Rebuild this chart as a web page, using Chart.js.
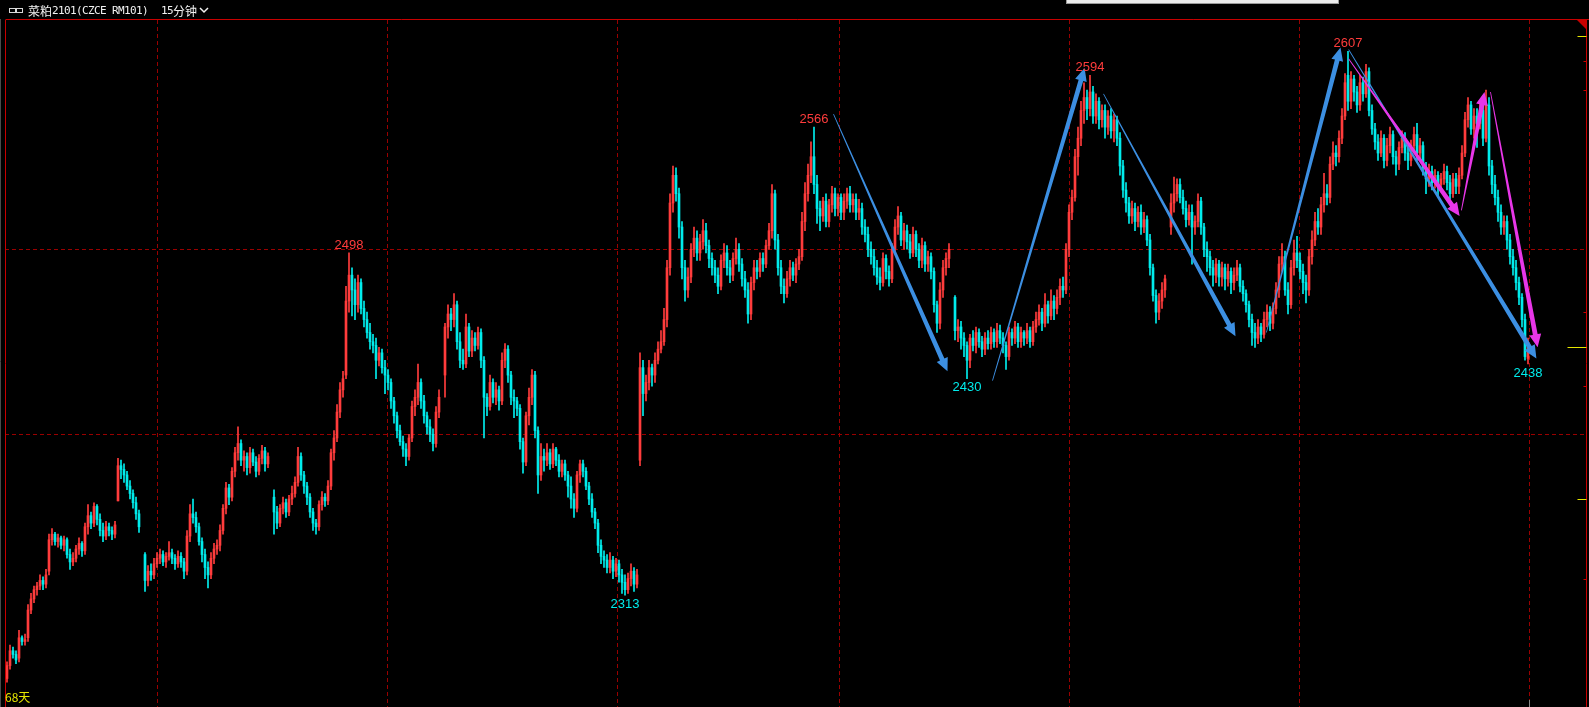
<!DOCTYPE html>
<html>
<head>
<meta charset="utf-8">
<script src="https://cdn.jsdelivr.net/npm/chart.js@4.4.1/dist/chart.umd.min.js"></script>
<style>
  html, body { margin: 0; padding: 0; background: #000; overflow: hidden; }
  #wrap { position: relative; width: 1589px; height: 707px; }
</style>
</head>
<body>
<div id="wrap"><canvas id="kline"></canvas></div>
<script>
// 菜粕2101 15分钟 candles (null = gap in the series)
const opens = [
  2268,2275,2283,2281,2279,2290,2288,2290,2305,2311,
  2316,2318,2321,2319,2326,2343,2346,2342,2344,2340,
  2343,2335,2331,2333,2338,2341,2337,2350,2356,2352,
  2361,2354,2348,2345,2350,2348,2346,2364,2383,2381,
  2378,2372,2368,2363,2357,null,2335,2321,2326,2324,
  2330,2333,2335,2331,2334,2336,2333,2330,2334,2331,
  2326,2345,2357,2355,2350,2342,2335,2328,2324,2333,
  2338,2340,2348,2360,2371,2366,2380,2390,2395,2386,
  2388,2382,2390,2385,2380,2387,2391,2384,null,2366,
  2358,2352,2360,2363,2358,2365,2368,2374,2388,2378,
  2372,2366,2358,2352,2350,2362,2366,2364,2372,2390,
  2398,2412,2424,2432,2472,2486,2478,2470,2482,2468,
  2462,2455,2450,2448,2440,2444,2436,2432,2428,2418,
  2410,2402,2396,2392,2388,2398,2415,2420,2428,2418,
  2410,2404,2400,2395,2412,null,2432,2458,2465,2462,
  2470,2450,2440,2438,2458,2445,2452,2448,2455,2440,
  2420,2415,2428,2420,2424,2418,2440,2446,2432,2420,
  2418,2414,2396,2385,2410,2420,2432,2402,2378,2388,
  2386,2390,2384,2392,2386,2380,2384,2378,2372,2365,
  2360,2378,2384,2380,2372,2365,2358,2352,2340,2334,
  2332,2328,2332,2326,2330,2324,2320,2316,2322,2326,
  2319,2386,2436,2422,2428,2436,2432,2440,2446,2450,
  2462,2490,2525,2540,2530,2512,2490,2478,2485,2500,
  2506,2498,2504,2510,2502,2495,2490,2486,2480,2494,
  2498,2490,2486,2495,2500,2492,2484,2478,2465,2482,
  2490,2488,2495,2492,2502,2510,2530,2505,2490,2480,
  2476,2484,2490,2486,2492,2496,2515,2530,2540,2550,
  2535,2522,2518,2526,2515,2524,2530,2522,2528,2520,
  2526,2530,2524,2527,2520,2522,2512,2508,2500,2496,
  2490,2485,2482,2495,2488,2484,2500,2512,2518,2505,
  2510,2504,2498,2508,2500,2494,2502,2492,2496,2488,
  2470,2460,2478,2490,2495,null,2474,2456,2458,2452,
  2448,2440,2452,2448,2455,2450,2446,2452,2449,2455,
  2450,2456,2452,2448,2442,2455,2452,2458,2450,2455,
  2452,2456,2450,2458,2462,2466,2460,2470,2464,2472,
  2468,2474,2480,2478,2500,2520,2528,2550,2560,2575,
  2582,2576,2585,2572,2580,2570,2575,2566,2572,2564,
  2570,2560,2545,2532,2525,2518,2522,2515,2520,2512,
  2516,2505,2490,2475,2466,2472,2478,null,2512,2525,
  2530,2535,2528,2522,2516,2520,2512,2515,2526,2512,
  2500,2496,2490,2486,2492,2485,2490,2484,2488,2482,
  2486,2490,2480,2476,2470,2462,2455,2452,2458,2454,
  2462,2466,2460,2468,2478,2492,2496,2478,2470,2490,
  2498,2494,2488,2482,2478,2496,2505,2515,2512,2524,
  2530,2528,2546,2552,2550,2560,2572,2594,2580,2592,
  2585,2578,2590,2584,2596,2575,2565,2558,2552,2560,
  2548,2556,2562,2550,2546,2555,2560,2552,2548,2556,
  2562,2552,2556,2544,2538,2542,2536,2540,2535,2538,
  2542,2536,2530,2538,2534,2540,2552,2570,2578,2565,
  2572,2568,2575,2560,2578,2545,2535,2528,2520,2512,
  2515,2505,2496,2490,2482,2474,2462,2441
];
const highs = [
  2277,2286,2285,2283,2294,2291,2292,2308,2314,2318,
  2320,2324,2323,2327,2346,2349,2347,2346,2345,2345,
  2344,2338,2336,2340,2344,2342,2352,2362,2358,2363,
  2362,2357,2352,2353,2352,2350,2353,2387,2386,2384,
  2380,2375,2370,2366,2359,null,2336,2329,2330,2333,
  2336,2338,2337,2336,2342,2338,2335,2337,2336,2333,
  2348,2362,2365,2358,2352,2344,2338,2331,2336,2341,
  2343,2351,2362,2374,2373,2382,2393,2404,2397,2391,
  2390,2393,2392,2388,2389,2394,2393,2390,null,2370,
  2361,2362,2366,2365,2367,2372,2377,2393,2390,2380,
  2374,2368,2360,2354,2364,2369,2368,2375,2392,2402,
  2416,2428,2434,2480,2498,2490,2484,2486,2484,2472,
  2466,2460,2454,2452,2447,2446,2440,2435,2430,2420,
  2412,2405,2399,2395,2400,2418,2424,2438,2430,2421,
  2412,2408,2403,2415,2424,null,2460,2470,2468,2476,
  2472,2455,2446,2465,2460,2456,2455,2458,2457,2442,
  2422,2432,2430,2428,2426,2444,2449,2448,2434,2424,
  2420,2416,2398,2412,2425,2435,2434,2404,2395,2392,
  2395,2392,2395,2393,2389,2386,2386,2380,2377,2368,
  2380,2386,2386,2382,2374,2368,2360,2354,2343,2337,
  2335,2336,2334,2333,2332,2327,2324,2325,2330,2328,
  2327,2444,2440,2432,2440,2438,2444,2450,2456,2468,
  2494,2530,2545,2544,2533,2515,2494,2490,2503,2512,
  2510,2508,2516,2514,2505,2498,2494,2490,2497,2503,
  2502,2494,2498,2506,2503,2495,2488,2482,2485,2494,
  2494,2498,2498,2505,2514,2535,2532,2508,2494,2484,
  2488,2494,2493,2495,2500,2520,2536,2546,2558,2566,
  2540,2526,2528,2530,2527,2534,2533,2530,2530,2530,
  2533,2534,2530,2530,2527,2525,2516,2512,2504,2500,
  2494,2490,2498,2497,2491,2503,2516,2523,2520,2514,
  2513,2508,2512,2510,2503,2506,2504,2499,2498,2490,
  2472,2482,2494,2498,2503,null,2475,2462,2461,2455,
  2450,2454,2456,2458,2457,2453,2455,2456,2458,2457,
  2460,2459,2455,2450,2458,2457,2461,2460,2458,2456,
  2460,2458,2461,2466,2470,2468,2476,2472,2478,2475,
  2478,2484,2485,2503,2524,2532,2554,2566,2580,2590,
  2586,2594,2588,2584,2582,2578,2578,2575,2576,2573,
  2572,2563,2548,2536,2528,2526,2525,2523,2524,2520,
  2518,2508,2492,2478,2476,2482,2486,null,2530,2539,
  2538,2538,2532,2526,2524,2524,2518,2530,2528,2514,
  2504,2499,2494,2495,2494,2493,2492,2492,2490,2490,
  2494,2492,2483,2478,2472,2465,2460,2462,2460,2466,
  2470,2469,2471,2482,2496,2503,2499,2482,2494,2505,
  2507,2498,2492,2486,2500,2510,2520,2522,2528,2541,
  2535,2550,2558,2556,2564,2576,2595,2607,2596,2594,
  2588,2594,2593,2600,2598,2578,2568,2562,2564,2562,
  2560,2566,2564,2553,2558,2564,2563,2556,2559,2566,
  2568,2560,2558,2547,2546,2545,2543,2542,2541,2546,
  2545,2540,2541,2541,2544,2556,2574,2582,2580,2576,
  2576,2580,2578,2586,2582,2548,2540,2532,2524,2518,
  2518,2508,2500,2494,2485,2476,2465,2452
];
const lows = [
  2266,2273,2279,2276,2277,2286,2286,2288,2303,2309,
  2313,2316,2316,2317,2324,2340,2340,2339,2338,2337,
  2333,2327,2329,2331,2335,2334,2335,2346,2349,2350,
  2351,2345,2342,2343,2345,2343,2344,2364,2376,2374,
  2370,2365,2360,2354,2347,null,2315,2318,2321,2322,
  2328,2330,2329,2328,2332,2330,2327,2328,2328,2322,
  2324,2342,2352,2347,2340,2331,2322,2317,2322,2330,
  2335,2337,2346,2357,2362,2364,2377,2386,2383,2380,
  2378,2379,2383,2377,2378,2384,2380,2382,null,2346,
  2349,2350,2357,2355,2356,2362,2366,2372,2375,2368,
  2362,2355,2348,2346,2348,2359,2361,2362,2370,2386,
  2396,2409,2420,2430,2466,2464,2462,2466,2465,2458,
  2452,2446,2444,2430,2437,2433,2422,2424,2414,2406,
  2398,2394,2388,2383,2386,2396,2410,2416,2414,2406,
  2400,2396,2391,2393,2409,null,2420,2452,2456,2458,
  2446,2436,2435,2436,2442,2442,2445,2446,2436,2398,
  2410,2413,2417,2416,2413,2416,2436,2428,2416,2409,
  2410,2392,2379,2383,2405,2416,2398,2368,2375,2380,
  2383,2381,2382,2383,2377,2377,2375,2366,2360,2355,
  2358,2374,2377,2370,2362,2355,2349,2336,2330,2328,
  2325,2325,2322,2323,2320,2314,2313,2314,2318,2315,
  2317,2383,2410,2418,2424,2426,2428,2438,2444,2448,
  2458,2486,2520,2526,2506,2484,2472,2474,2482,2496,
  2494,2494,2500,2498,2490,2486,2482,2476,2478,2490,
  2486,2482,2483,2492,2488,2480,2474,2460,2462,2478,
  2484,2485,2488,2490,2500,2506,2500,2486,2476,2471,
  2474,2480,2483,2482,2489,2494,2510,2526,2536,2530,
  2514,2510,2515,2512,2512,2520,2518,2518,2516,2516,
  2522,2520,2520,2516,2516,2508,2504,2496,2492,2486,
  2481,2478,2480,2484,2480,2482,2498,2508,2502,2500,
  2500,2495,2496,2496,2490,2490,2488,2488,2484,2466,
  2455,2457,2474,2486,2490,null,2451,2450,2446,2442,
  2430,2436,2445,2444,2447,2442,2443,2446,2446,2447,
  2447,2449,2444,2435,2440,2448,2449,2447,2447,2448,
  2449,2447,2448,2455,2459,2456,2458,2460,2462,2462,
  2465,2470,2474,2476,2496,2516,2526,2540,2556,2568,
  2570,2572,2568,2568,2565,2566,2560,2562,2560,2558,
  2556,2540,2528,2520,2514,2514,2510,2512,2508,2509,
  2502,2486,2472,2460,2462,2468,2474,null,2508,2520,
  2526,2525,2519,2512,2513,2492,2508,2512,2508,2496,
  2488,2486,2480,2482,2480,2480,2478,2480,2476,2478,
  2483,2477,2472,2466,2458,2448,2447,2449,2450,2452,
  2458,2456,2457,2465,2474,2488,2475,2465,2468,2486,
  2490,2484,2476,2471,2475,2492,2502,2508,2508,2520,
  2524,2525,2543,2545,2547,2557,2570,2575,2576,2580,
  2574,2575,2580,2582,2572,2562,2554,2548,2550,2544,
  2545,2552,2546,2540,2543,2552,2548,2543,2545,2552,
  2548,2548,2540,2530,2534,2532,2533,2529,2531,2535,
  2532,2527,2528,2530,2530,2538,2550,2566,2562,2560,
  2555,2565,2556,2558,2540,2530,2524,2515,2508,2508,
  2500,2492,2486,2478,2470,2458,2440,2438
];
const closes = [
  2275,2283,2281,2278,2290,2288,2289,2305,2311,2316,
  2318,2321,2319,2324,2343,2346,2342,2344,2340,2343,
  2335,2331,2333,2338,2341,2337,2350,2356,2352,2361,
  2354,2348,2345,2350,2348,2346,2351,2383,2381,2378,
  2372,2368,2363,2357,2350,null,2321,2326,2324,2330,
  2333,2335,2331,2334,2336,2333,2330,2334,2331,2326,
  2345,2357,2355,2350,2342,2335,2328,2324,2333,2338,
  2340,2348,2360,2371,2366,2380,2390,2395,2386,2388,
  2382,2390,2385,2380,2387,2391,2384,2388,null,2358,
  2352,2360,2363,2358,2365,2368,2374,2388,2378,2372,
  2366,2358,2352,2350,2362,2366,2364,2372,2390,2398,
  2412,2424,2430,2472,2486,2478,2470,2482,2468,2462,
  2455,2450,2448,2440,2444,2436,2432,2428,2418,2410,
  2402,2396,2392,2388,2398,2415,2420,2428,2418,2410,
  2404,2400,2395,2412,2420,null,2458,2465,2462,2470,
  2450,2440,2438,2458,2445,2452,2448,2455,2440,2420,
  2415,2428,2420,2424,2418,2440,2446,2432,2420,2418,
  2414,2396,2385,2410,2420,2432,2402,2378,2388,2386,
  2390,2384,2392,2386,2380,2384,2378,2372,2365,2360,
  2378,2384,2380,2372,2365,2358,2352,2340,2334,2332,
  2328,2332,2326,2330,2324,2320,2316,2322,2326,2319,
  2324,2436,2422,2428,2436,2432,2440,2446,2450,2462,
  2490,2525,2540,2530,2512,2490,2478,2485,2500,2506,
  2498,2504,2510,2502,2495,2490,2486,2480,2494,2498,
  2490,2486,2495,2500,2492,2484,2478,2465,2482,2490,
  2488,2495,2492,2502,2510,2530,2505,2490,2480,2476,
  2484,2490,2486,2492,2496,2515,2530,2540,2550,2535,
  2522,2518,2526,2515,2524,2530,2522,2528,2520,2526,
  2530,2524,2527,2520,2522,2512,2508,2500,2496,2490,
  2485,2482,2495,2488,2484,2500,2512,2518,2505,2510,
  2504,2498,2508,2500,2494,2502,2492,2496,2488,2470,
  2460,2478,2490,2495,2500,null,2456,2458,2452,2448,
  2440,2452,2448,2455,2450,2446,2452,2449,2455,2450,
  2456,2452,2448,2442,2455,2452,2458,2450,2455,2452,
  2456,2450,2458,2462,2466,2460,2470,2464,2472,2468,
  2474,2480,2478,2500,2520,2528,2550,2560,2575,2582,
  2576,2585,2572,2580,2570,2575,2566,2572,2564,2570,
  2560,2545,2532,2525,2518,2522,2515,2520,2512,2516,
  2505,2490,2475,2466,2472,2478,2484,null,2525,2530,
  2535,2528,2522,2516,2520,2512,2515,2526,2512,2500,
  2496,2490,2486,2492,2485,2490,2484,2488,2482,2486,
  2490,2480,2476,2470,2462,2455,2452,2458,2454,2462,
  2466,2460,2468,2478,2492,2496,2478,2470,2490,2498,
  2494,2488,2482,2478,2496,2505,2515,2512,2524,2530,
  2528,2546,2552,2550,2560,2572,2590,2580,2592,2585,
  2578,2590,2584,2596,2575,2565,2558,2552,2560,2548,
  2556,2562,2550,2546,2555,2560,2552,2548,2556,2562,
  2552,2556,2544,2538,2542,2536,2540,2535,2538,2542,
  2536,2530,2538,2534,2540,2552,2570,2578,2565,2572,
  2568,2575,2560,2578,2545,2535,2528,2520,2512,2515,
  2505,2496,2490,2482,2474,2462,2442,2447
];

// session separators (bar index) and price grid levels
const dayBreaks = [50, 126.67, 203.33, 277.33, 354, 430.67, 507.33];
const priceGrid = [2400, 2500];

// marked extremes: bar index and which side
const markIdx  = [114, 206, 269, 320, 361, 447, 507];
const markSide = ["high", "low", "high", "low", "high", "high", "low"];

// hand-drawn trend arrows: [fromIndex, fromPrice, toIndex, toPrice]
const blueArrows = [
  [275.5, 2573, 313.5, 2434],
  [328.5, 2429, 359.2, 2598],
  [365.5, 2584, 409.5, 2453],
  [419.8, 2455, 444.5, 2609],
  [447.2, 2608, 509.8, 2441]
];
const pinkArrows = [
  [447.2, 2603, 484.2, 2518],
  [484.8, 2521, 492.5, 2585],
  [494.5, 2585, 510.2, 2447]
];

// right-edge axis marks
const axisTicks = [2602, 2586, 2466, 2426, 2322];
const yellowTicks = [2615, 2365];
const lastPrice = closes[closes.length - 1];

const UP = "#ff3c3c";
const DOWN = "#00ecec";
const FLAT = "#e6e6e6";
const GRID = "#9a0000";
const FRAME = "#c80000";

const wickData = [], bodyData = [], colors = [];
for (let i = 0; i < closes.length; i++) {
  if (closes[i] == null) {
    wickData.push({ x: i, y: null });
    bodyData.push({ x: i, y: null });
    colors.push(FLAT);
    continue;
  }
  wickData.push({ x: i, y: [lows[i], highs[i]] });
  bodyData.push({ x: i, y: [opens[i], closes[i]] });
  colors.push(closes[i] > opens[i] ? UP : closes[i] < opens[i] ? DOWN : FLAT);
}

// header text drawn with half-width latin like the terminal font
function drawMixed(ctx, text, x, y) {
  for (const ch of text) {
    const wide = ch.charCodeAt(0) > 255;
    ctx.font = wide ? "12px 'Noto Sans CJK SC', sans-serif" : "11px 'DejaVu Sans Mono', monospace";
    ctx.fillText(ch, x, y);
    x += wide ? 12 : 6;
  }
  return x;
}

const frame = {
  id: "frame",
  beforeDatasetsDraw(chart) {
    const { ctx, chartArea, scales } = chart;
    const xs = scales.x, ys = scales.y;
    ctx.save();
    ctx.strokeStyle = GRID;
    ctx.lineWidth = 1;
    ctx.setLineDash([4, 3]);
    dayBreaks.forEach(b => {
      const x = Math.round(xs.getPixelForValue(b)) + 0.5;
      ctx.beginPath();
      ctx.moveTo(x, chartArea.top);
      ctx.lineTo(x, chartArea.bottom);
      ctx.stroke();
    });
    priceGrid.forEach(p => {
      const y = Math.round(ys.getPixelForValue(p)) + 0.5;
      ctx.beginPath();
      ctx.moveTo(chartArea.left, y);
      ctx.lineTo(chartArea.right, y);
      ctx.stroke();
    });
    ctx.restore();
  },
  afterDatasetsDraw(chart) {
    const { ctx, chartArea, scales } = chart;
    const xs = scales.x, ys = scales.y;
    ctx.save();

    // arrows
    const drawArrow = (a, color) => {
      const x0 = xs.getPixelForValue(a[0]), y0 = ys.getPixelForValue(a[1]);
      const x1 = xs.getPixelForValue(a[2]), y1 = ys.getPixelForValue(a[3]);
      const dx = x1 - x0, dy = y1 - y0;
      const len = Math.hypot(dx, dy);
      const ux = dx / len, uy = dy / len, nx = -uy, ny = ux;
      const headLen = 13, headW = 6, w0 = 0.4, w1 = 2.4;
      const bx = x1 - ux * headLen, by = y1 - uy * headLen;
      ctx.fillStyle = color;
      ctx.beginPath();
      ctx.moveTo(x0 + nx * w0, y0 + ny * w0);
      ctx.lineTo(bx + nx * w1, by + ny * w1);
      ctx.lineTo(bx + nx * headW, by + ny * headW);
      ctx.lineTo(x1, y1);
      ctx.lineTo(bx - nx * headW, by - ny * headW);
      ctx.lineTo(bx - nx * w1, by - ny * w1);
      ctx.lineTo(x0 - nx * w0, y0 - ny * w0);
      ctx.closePath();
      ctx.fill();
    };
    blueArrows.forEach(a => drawArrow(a, "#3c8fe2"));
    pinkArrows.forEach(a => drawArrow(a, "#e836e8"));

    // extreme labels
    ctx.font = "13px 'Liberation Sans', Arial, sans-serif";
    ctx.textAlign = "center";
    ctx.textBaseline = "middle";
    markIdx.forEach((idx, k) => {
      const x = xs.getPixelForValue(idx);
      if (markSide[k] === "high") {
        ctx.fillStyle = UP;
        ctx.fillText(String(highs[idx]), x, ys.getPixelForValue(highs[idx]) - 8);
      } else {
        ctx.fillStyle = DOWN;
        ctx.fillText(String(lows[idx]), x, ys.getPixelForValue(lows[idx]) + 9);
      }
    });

    // frame lines
    ctx.strokeStyle = FRAME;
    ctx.lineWidth = 1;
    ctx.beginPath();
    ctx.moveTo(chartArea.left + 0.5, chartArea.top);
    ctx.lineTo(chartArea.left + 0.5, chartArea.bottom);
    ctx.moveTo(chartArea.right - 0.5, chartArea.top);
    ctx.lineTo(chartArea.right - 0.5, chartArea.bottom);
    ctx.stroke();

    // right axis ticks
    const rx = chartArea.right - 0.5;
    axisTicks.forEach(p => {
      const y = Math.round(ys.getPixelForValue(p)) + 0.5;
      ctx.beginPath();
      ctx.moveTo(rx - 3, y);
      ctx.lineTo(rx, y);
      ctx.stroke();
    });
    ctx.strokeStyle = "#e6e600";
    yellowTicks.forEach(p => {
      const y = Math.round(ys.getPixelForValue(p)) + 0.5;
      ctx.beginPath();
      ctx.moveTo(rx - 9, y);
      ctx.lineTo(rx, y);
      ctx.stroke();
    });
    const ly = Math.round(ys.getPixelForValue(lastPrice)) + 0.5;
    ctx.beginPath();
    ctx.moveTo(rx - 19, ly);
    ctx.lineTo(rx, ly);
    ctx.stroke();

    // corner triangle
    ctx.fillStyle = FRAME;
    ctx.beginPath();
    ctx.moveTo(chartArea.right - 10, chartArea.top);
    ctx.lineTo(chartArea.right, chartArea.top);
    ctx.lineTo(chartArea.right, chartArea.top + 10);
    ctx.closePath();
    ctx.fill();

    // window edge
    ctx.strokeStyle = "#4a4a4a";
    ctx.beginPath();
    ctx.moveTo(0.5, 16);
    ctx.lineTo(0.5, chart.height);
    ctx.stroke();

    // bottom cursor tick
    ctx.strokeStyle = "#888";
    const cx = Math.round(xs.getPixelForValue(dayBreaks[dayBreaks.length - 1])) + 0.5;
    ctx.beginPath();
    ctx.moveTo(cx, chart.height - 7);
    ctx.lineTo(cx, chart.height);
    ctx.stroke();

    // header
    ctx.fillStyle = "#000";
    ctx.fillRect(0, 0, chart.width, chartArea.top - 1);
    ctx.strokeStyle = FRAME;
    ctx.beginPath();
    ctx.moveTo(chartArea.left + 0.5, chartArea.top - 0.5);
    ctx.lineTo(chart.width, chartArea.top - 0.5);
    ctx.stroke();

    ctx.fillStyle = "#ececec";
    ctx.strokeStyle = "#9a9a9a";
    ctx.fillRect(1066, 0, 273, 3);
    ctx.strokeRect(1066.5, -0.5, 272, 4);

    // link icon
    ctx.strokeStyle = "#d8d8d8";
    ctx.strokeRect(9.5, 8.5, 6, 4);
    ctx.strokeRect(16.5, 8.5, 6, 4);

    ctx.fillStyle = "#f2f2f2";
    ctx.textAlign = "left";
    ctx.textBaseline = "middle";
    drawMixed(ctx, "菜粕2101(CZCE RM101)", 28, 11);
    drawMixed(ctx, "15分钟", 161, 11);
    ctx.strokeStyle = "#f2f2f2";
    ctx.lineWidth = 1.5;
    ctx.beginPath();
    ctx.moveTo(200, 8);
    ctx.lineTo(204, 12);
    ctx.lineTo(208, 8);
    ctx.stroke();

    // span label
    ctx.fillStyle = "#e6e600";
    ctx.font = "12px 'Noto Sans CJK SC', sans-serif";
    ctx.fillText("68天", 5, 697);

    ctx.restore();
  }
};

new Chart(document.getElementById("kline"), {
  type: "bar",
  data: {
    datasets: [
      {
        label: "wick",
        data: wickData,
        backgroundColor: colors,
        barThickness: 1,
        grouped: false,
        order: 2
      },
      {
        label: "body",
        data: bodyData,
        backgroundColor: colors,
        barThickness: 2,
        minBarLength: 1,
        grouped: false,
        order: 1
      }
    ]
  },
  options: {
    responsive: true,
    maintainAspectRatio: false,
    animation: false,
    layout: { padding: { left: 5, right: 2, top: 20, bottom: 0 } },
    scales: {
      x: { type: "linear", display: false, offset: false, min: -0.6667, max: 526.6667 },
      y: { display: false, min: 2252.6, max: 2623.9 }
    },
    plugins: {
      legend: { display: false },
      tooltip: { enabled: false }
    }
  },
  plugins: [frame]
});
</script>
</body>
</html>
